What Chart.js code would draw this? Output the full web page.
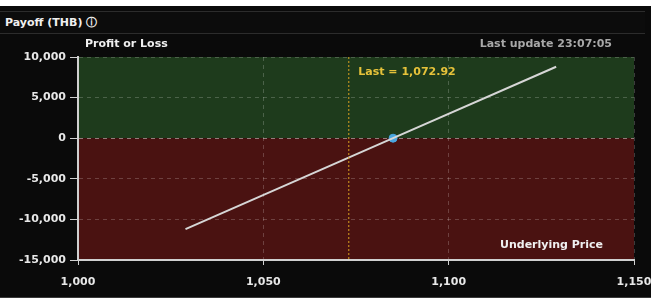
<!DOCTYPE html>
<html>
<head>
<meta charset="utf-8">
<script src="https://cdn.jsdelivr.net/npm/chart.js@4"></script>
<style>
  html, body { margin: 0; padding: 0; background: #fff; }
  #wrap { position: absolute; left: 0; top: 6px; width: 651px; height: 291px; background: #0a0a0a; border-bottom: 1px solid #3a3a3a; }
  #bar { position: absolute; left: 0; top: 5px; width: 645px; height: 23px; border-top: 1px solid #2c2c2c; border-bottom: 1px solid #2c2c2c; background: #0c0c0c;
         font: bold 11px "DejaVu Sans", sans-serif; color: #f0f0f0; line-height: 22px; padding-left: 5px; box-sizing: border-box; }
  canvas { position: absolute; left: 0; top: 0; }
</style>
</head>
<body>
<div id="wrap"><div id="bar">Payoff (THB) &#9432;</div></div>
<canvas id="c" width="651" height="300"></canvas>
<script>
// payoff line (underlying price vs profit/loss, THB)
const prices = [1029, 1085, 1129];
const pnl = [-11200, 0, 8800];
const breakeven = [{ x: 1085, y: 0 }];
const lastPrice = 1072.92;
const xTicks = [1000, 1050, 1100, 1150];
const yTicks = [-15000, -10000, -5000, 0, 5000, 10000];

const fmt = v => v.toLocaleString('en-US');
const font = { family: 'DejaVu Sans', size: 11, weight: 'bold' };

const zones = {
  id: 'zones',
  beforeDraw(chart) {
    const { ctx, chartArea: a, scales: { y } } = chart;
    const z = y.getPixelForValue(0);
    ctx.save();
    ctx.fillStyle = '#1e3b1c';
    ctx.fillRect(a.left, a.top, a.width, z - a.top);
    ctx.fillStyle = '#4a1211';
    ctx.fillRect(a.left, z, a.width, a.bottom - z);
    ctx.restore();
  },
  afterDatasetsDraw(chart) {
    const { ctx, chartArea: a, scales: { x } } = chart;
    const px = x.getPixelForValue(lastPrice);
    ctx.save();
    ctx.strokeStyle = '#d9a21f';
    ctx.lineWidth = 1;
    ctx.setLineDash([2, 2]);
    ctx.beginPath();
    ctx.moveTo(px + 0.5, a.top);
    ctx.lineTo(px + 0.5, a.bottom);
    ctx.stroke();
    ctx.setLineDash([]);
    ctx.font = 'bold 11px "DejaVu Sans"';
    ctx.textBaseline = 'middle';
    ctx.fillStyle = '#e6c23a';
    ctx.fillText('Last = ' + fmt(lastPrice), px + 10, a.top + 15);
    ctx.fillStyle = '#f0f0f0';
    ctx.fillText('Profit or Loss', 85, 44);
    ctx.fillText('Underlying Price', a.right - 134, a.bottom - 15);
    ctx.fillStyle = '#a8a8a8';
    ctx.textAlign = 'right';
    ctx.fillText('Last update 23:07:05', 612, 44);
    ctx.restore();
  }
};

new Chart(document.getElementById('c'), {
  type: 'scatter',
  data: {
    datasets: [{
      type: 'line',
      data: prices.map((p, i) => ({ x: p, y: pnl[i] })),
      borderColor: '#d6d6d6',
      borderWidth: 2,
      pointRadius: 0,
      tension: 0
    }, {
      data: breakeven,
      backgroundColor: '#4aa6e0',
      borderColor: '#4aa6e0',
      pointRadius: 4
    }]
  },
  options: {
    responsive: false,
    animation: false,
    layout: { padding: { left: 0, right: 17, top: 57, bottom: 0 } },
    plugins: { legend: { display: false }, tooltip: { enabled: false } },
    scales: {
      x: {
        type: 'linear', min: 1000, max: 1150,
        afterBuildTicks: s => { s.ticks = xTicks.map(v => ({ value: v })); },
        afterFit: s => { s.height = 40; s.paddingRight = 0; s.paddingLeft = 0; },
        grid: { color: 'rgba(255,255,255,0.2)', tickColor: '#d0d0d0', tickLength: 5, tickBorderDash: [] },
        border: { color: '#d0d0d0', width: 2, dash: [4, 4] },
        ticks: { color: '#e8e8e8', font, padding: 11, callback: v => fmt(v) }
      },
      y: {
        min: -15000, max: 10000,
        afterBuildTicks: s => { s.ticks = yTicks.map(v => ({ value: v })); },
        afterFit: s => { s.width = 78; },
        grid: {
          color: c => c.tick && c.tick.value === 0 ? 'rgba(255,255,255,0.45)' : 'rgba(255,255,255,0.2)',
          tickColor: '#d0d0d0', tickLength: 8, tickBorderDash: []
        },
        border: { color: '#d0d0d0', width: 2, dash: [4, 4] },
        ticks: { color: '#e8e8e8', font, padding: 4, callback: v => fmt(v) }
      }
    }
  },
  plugins: [zones]
});
</script>
</body>
</html>
